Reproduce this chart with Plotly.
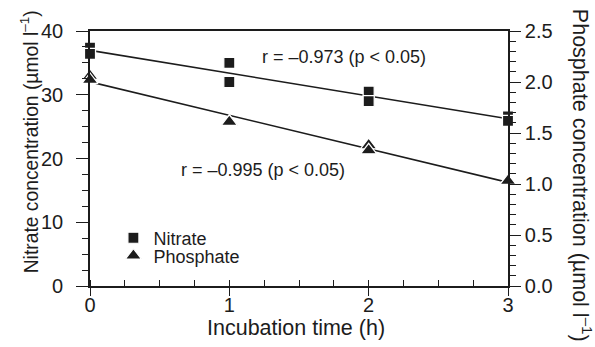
import numpy as np
import plotly.graph_objects as go

# Data
time_h = [0, 0, 1, 1, 2, 2, 3, 3]
nitrate = [37.4, 36.4, 35.0, 32.0, 30.5, 29.0, 26.6, 25.9]
phosphate = [2.06, 2.02, 1.61, 1.61, 1.38, 1.33, 1.03, 1.03]
r_nitrate_text = "r = –0.973 (p < 0.05)"
r_phosphate_text = "r = –0.995 (p < 0.05)"
x_title = "Incubation time (h)"
y_title = "Nitrate concentration (µmol l<sup>–1</sup>)"
y2_title = "Phosphate concentration (µmol l<sup>–1</sup>)"

ink = "#1c1c1c"
font_family = "Liberation Sans, Arial, Helvetica, sans-serif"

# regression lines
line_x = np.array([0, 3])
pn = np.polyfit(time_h, nitrate, 1)
pp = np.polyfit(time_h, phosphate, 1)

fig = go.Figure()
fig.add_trace(go.Scatter(x=line_x, y=np.polyval(pn, line_x), mode="lines",
                         line=dict(color=ink, width=1.6), showlegend=False,
                         hoverinfo="skip", cliponaxis=False))
fig.add_trace(go.Scatter(x=line_x, y=np.polyval(pp, line_x), mode="lines",
                         line=dict(color=ink, width=1.6), showlegend=False,
                         yaxis="y2", hoverinfo="skip", cliponaxis=False))
fig.add_trace(go.Scatter(x=time_h, y=nitrate, mode="markers", name="Nitrate",
                         legend="legend",
                         marker=dict(symbol="square", size=11, color=ink,
                                     line=dict(color="white", width=1.2)),
                         cliponaxis=False))
fig.add_trace(go.Scatter(x=time_h, y=phosphate, mode="markers", name="Phosphate",
                         yaxis="y2", legend="legend2",
                         marker=dict(symbol="triangle-up", size=14, color=ink,
                                     line=dict(color="white", width=1.2)),
                         cliponaxis=False))

fig.add_annotation(x=1.82, y=35.9, xref="x", yref="y", text=r_nitrate_text,
                   showarrow=False, font=dict(size=18, color=ink, family=font_family))
fig.add_annotation(x=1.24, y=18.2, xref="x", yref="y", text=r_phosphate_text,
                   showarrow=False, font=dict(size=18, color=ink, family=font_family))

# axis titles
fig.add_annotation(x=0.493, y=-0.163, xref="paper", yref="paper", text=x_title,
                   showarrow=False, xanchor="center", yanchor="middle",
                   font=dict(size=21.5, color=ink, family=font_family))
fig.add_annotation(x=-0.145, y=0.565, xref="paper", yref="paper", text=y_title,
                   showarrow=False, textangle=-90, xanchor="center", yanchor="middle",
                   font=dict(size=19.3, color=ink, family=font_family))
fig.add_annotation(x=1.177, y=0.432, xref="paper", yref="paper", text=y2_title,
                   showarrow=False, textangle=90, xanchor="center", yanchor="middle",
                   font=dict(size=21.5, color=ink, family=font_family))

legend_common = dict(xanchor="left", yanchor="middle", bgcolor="rgba(0,0,0,0)",
                     font=dict(size=18, color=ink, family=font_family),
                     itemsizing="trace", borderwidth=0)

fig.update_layout(
    width=595, height=347,
    margin=dict(l=90, r=87, t=31, b=61),
    paper_bgcolor="white", plot_bgcolor="white",
    font=dict(family=font_family, color=ink, size=20),
    legend=dict(x=0.056, y=0.188, **legend_common),
    legend2=dict(x=0.056, y=0.118, **legend_common),
    xaxis=dict(range=[0, 3], dtick=1, showgrid=False, zeroline=False,
               showline=True, linecolor=ink, linewidth=1.6, mirror=True,
               ticks="outside", ticklen=8, tickwidth=1.4, tickcolor=ink,
               minor=dict(dtick=0.25, ticks="inside", ticklen=6, tickwidth=1.2, tickcolor=ink),
               ticklabelstandoff=-8,
               tickfont=dict(size=20)),
    yaxis=dict(range=[0, 40], dtick=10, showgrid=False, zeroline=False,
               showline=True, linecolor=ink, linewidth=1.6,
               ticks="outside", ticklen=12, tickwidth=1.4, tickcolor=ink,
               minor=dict(dtick=2.5, ticks="outside", ticklen=6, tickwidth=1.2, tickcolor=ink),
               ticklabelstandoff=9,
               tickfont=dict(size=20)),
    yaxis2=dict(range=[0, 2.5], dtick=0.5, tickformat=".1f", overlaying="y", side="right",
                showgrid=False, zeroline=False,
                showline=True, linecolor=ink, linewidth=1.6,
                ticks="outside", ticklen=11, tickwidth=1.4, tickcolor=ink,
                minor=dict(dtick=0.1, ticks="outside", ticklen=6, tickwidth=1.2, tickcolor=ink),
                tickfont=dict(size=20)),
)

fig.write_html("out.html")
